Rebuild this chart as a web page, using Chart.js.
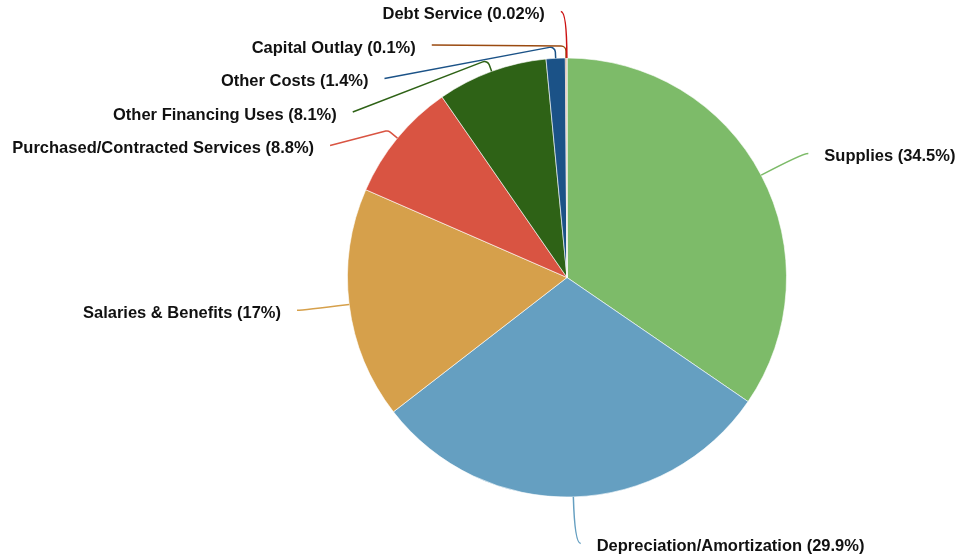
<!DOCTYPE html>
<html lang="en">

<head>
  <meta charset="UTF-8" />
  <title>Expenses Pie</title>
  <script src="https://cdn.jsdelivr.net/npm/chart.js"></script>
  <style>
    * {
      margin: 0;
      padding: 0;
      box-sizing: border-box;
    }

    body {
      background: #fff;
      width: 957px;
      height: 558px;
      overflow: hidden;
    }

    .wrap {
      position: relative;
      width: 957px;
      height: 558px;
    }
  </style>
</head>

<body>
  <div class="wrap">
    <canvas id="pieChart"></canvas>
  </div>

  <script>
    const categories = ['Supplies', 'Depreciation/Amortization', 'Salaries & Benefits', 'Purchased/Contracted Services',
      'Other Financing Uses', 'Other Costs', 'Capital Outlay', 'Debt Service'];
    const percents = [34.5, 29.9, 17, 8.8, 8.1, 1.4, 0.1, 0.02];
    const colors = ['#7dbb69', '#659fc1', '#d6a04b', '#d95442', '#2e6216', '#1b5287', '#9a4a10', '#cc1111'];

    // label ring radius + stacking gap for crowded side
    const LABEL_R = 266;
    const GAP = 33.5;

    const leaderLabels = {
      id: 'leaderLabels',
      afterDraw(chart) {
        const ctx = chart.ctx;
        const arcs = chart.getDatasetMeta(0).data;
        const items = arcs.map((arc, i) => {
          const mid = (arc.startAngle + arc.endAngle) / 2;
          return {
            i, mid,
            cx: arc.x, cy: arc.y, r: arc.outerRadius,
            x: arc.x + Math.cos(mid) * LABEL_R,
            y: arc.y + Math.sin(mid) * LABEL_R,
            left: Math.cos(mid) < 0
          };
        });

        // left side: push labels down from the top so they don't overlap
        const left = items.filter(d => d.left).sort((a, b) => b.mid - a.mid);
        let prev = -Infinity;
        left.forEach(d => {
          const ny = Math.max(d.y, prev + GAP, 11);
          if (Math.abs(ny - d.y) > 4) {
            d.moved = true;
            d.y = ny;
            const dy = ny - d.cy;
            d.x = d.cx - Math.sqrt(Math.max(LABEL_R * LABEL_R - dy * dy, 0));
          }
          prev = d.y;
        });

        ctx.save();
        ctx.font = 'bold 16.5px "Liberation Sans", Arial, sans-serif';
        ctx.textBaseline = 'middle';
        items.forEach(d => {
          const dir = d.left ? -1 : 1;
          const ax = d.cx + Math.cos(d.mid) * d.r;
          const ay = d.cy + Math.sin(d.mid) * d.r;
          const ex = d.x + dir * 6;
          const ey = d.y;

          ctx.beginPath();
          ctx.moveTo(ax, ay);
          if (d.moved) {
            const br = d.r + 12;
            ctx.arcTo(d.cx + Math.cos(d.mid) * br, d.cy + Math.sin(d.mid) * br, ex, ey, 5);
            ctx.lineTo(ex, ey);
          } else {
            ctx.quadraticCurveTo(d.x, d.y, ex, ey);
          }
          ctx.strokeStyle = colors[d.i];
          ctx.lineWidth = 1.5;
          ctx.stroke();

          ctx.fillStyle = '#111';
          ctx.textAlign = d.left ? 'right' : 'left';
          ctx.fillText(categories[d.i] + ' (' + percents[d.i] + '%)', ex + dir * 16, ey + 3);
        });
        ctx.restore();
      }
    };

    const ctx = document.getElementById('pieChart').getContext('2d');

    new Chart(ctx, {
      type: 'pie',
      data: {
        labels: categories,
        datasets: [{
          data: percents,
          backgroundColor: colors,
          borderColor: 'rgba(255,255,255,0.6)',
          borderWidth: 1,
          hoverOffset: 0
        }]
      },
      options: {
        responsive: true,
        maintainAspectRatio: false,
        animation: false,
        layout: {
          padding: { top: 57, bottom: 60, left: 347, right: 170 }
        },
        plugins: {
          legend: { display: false },
          tooltip: { enabled: false }
        }
      },
      plugins: [leaderLabels]
    });
  </script>

</body>

</html>
